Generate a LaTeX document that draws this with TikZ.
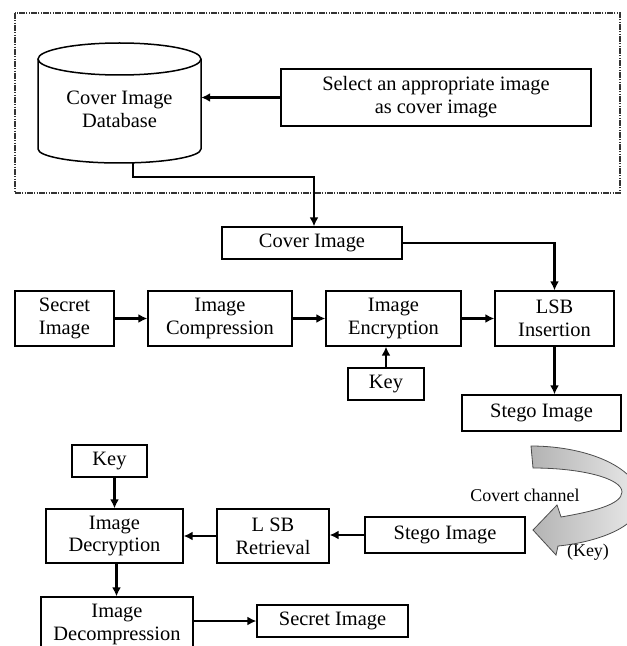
\documentclass[tikz,border=0pt]{standalone}
\usepackage{fontspec}
\setmainfont{Liberation Serif}
\usetikzlibrary{arrows.meta}
\begin{document}
\begin{tikzpicture}[x=1bp,y=-1bp,
  box/.style={draw=black,line width=1.3bp,rectangle,inner sep=0pt,align=center,
    font=\fontsize{20.5}{23}\selectfont},
  arr/.style={draw=black,line width=2.2bp,-{Latex[length=9bp,width=9bp]}},
  lbl/.style={font=\fontsize{18}{20}\selectfont,inner sep=0pt}]
\useasboundingbox (0,0) rectangle (627,646);
% frame
\draw[line width=1.3bp,black!80,dash pattern=on 6bp off 1.2bp on 1.2bp off 1.2bp on 1.2bp off 1.2bp]
  (15,13) rectangle (620,193);
% cylinder
\node[inner sep=0pt,minimum width=163bp,minimum height=90bp,align=center,
  font=\fontsize{20.5}{23}\selectfont] (db) at (119.5,109) {Cover Image\\Database};
\draw[line width=1.5bp] (119.5,59) ellipse [x radius=81.5bp, y radius=16bp];
\draw[line width=1.5bp] (38,59) -- (38,149) arc [start angle=180, end angle=360, x radius=81.5bp, y radius=14bp] -- (201,59);
\coordinate (dbout) at (133,163);
% nodes
\node[box,minimum width=310bp,minimum height=57bp] (sel) at (436,97.5) {Select an appropriate image\\as cover image};
\node[box,minimum width=180bp,minimum height=32bp] (cov) at (312,243) {Cover Image};
\node[box,minimum width=99bp,minimum height=55bp] (sec1) at (64.5,318.5) {Secret\\Image};
\node[box,minimum width=144bp,minimum height=55bp] (comp) at (220,318.5) {Image\\Compression};
\node[box,minimum width=135bp,minimum height=55bp] (enc) at (393.5,318.5) {Image\\Encryption};
\node[box,minimum width=119bp,minimum height=55bp] (lsb) at (554.5,318.5) {LSB\\Insertion};
\node[box,minimum width=76bp,minimum height=32bp] (key1) at (386,384) {Key};
\node[box,minimum width=159bp,minimum height=36bp] (st1) at (541.5,413) {Stego Image};
\node[box,minimum width=75bp,minimum height=32bp] (key2) at (109.5,461) {Key};
\node[box,minimum width=137bp,minimum height=54bp] (dec) at (114.5,536) {Image\\Decryption};
\node[box,minimum width=112bp,minimum height=54bp] (ret) at (273,536) {L SB\\Retrieval};
\node[box,minimum width=160bp,minimum height=36bp] (st2) at (445,535) {Stego Image};
\node[box,minimum width=152bp,minimum height=55bp] (dcmp) at (117,624.5) {Image\\Decompression};
\node[box,minimum width=151bp,minimum height=32bp] (sec2) at (332.5,621) {Secret Image};
% connectors
\draw[arr] (sel.west) -- (sel.west -| db.east);
\draw[arr] (dbout) -- (dbout |- 0,177) -| ([xshift=2bp]cov.north);
\draw[arr] (cov.east) -| (lsb.north);
\draw[arr] (sec1) -- (comp);
\draw[arr] (comp) -- (enc);
\draw[arr] (enc) -- (lsb);
\draw[arr] (key1.north) -- (key1.north |- enc.south);
\draw[arr] (lsb.south) -- (lsb.south |- st1.north);
\draw[arr] (dec.north |- key2.south) -- (dec.north);
\draw[arr] ([xshift=2bp]dec.south) -- ([xshift=2bp]dec.south |- dcmp.north);
\draw[arr] (st2.west) -- (st2.west -| ret.east);
\draw[arr] (ret.west) -- (ret.west -| dec.east);
\draw[arr] (sec2.west -| dcmp.east) -- (sec2.west);
% covert channel arrow
\path[draw=black!70,line width=0.8bp,left color=gray!60,right color=gray!15]
  (531,446) .. controls (590,446) and (645,470) .. (640,505)
  .. controls (636,530) and (590,543) .. (558,546)
  -- (556,555) -- (533,530) -- (557,505) -- (561,517)
  .. controls (590,512) and (622,505) .. (622,492)
  .. controls (622,478) and (580,468) .. (533,468) -- cycle;
\node[lbl] (cc) at (525,495) {Covert channel};
\node[lbl] (ck) at (588,552) {(Key)};
\end{tikzpicture}
\end{document}
